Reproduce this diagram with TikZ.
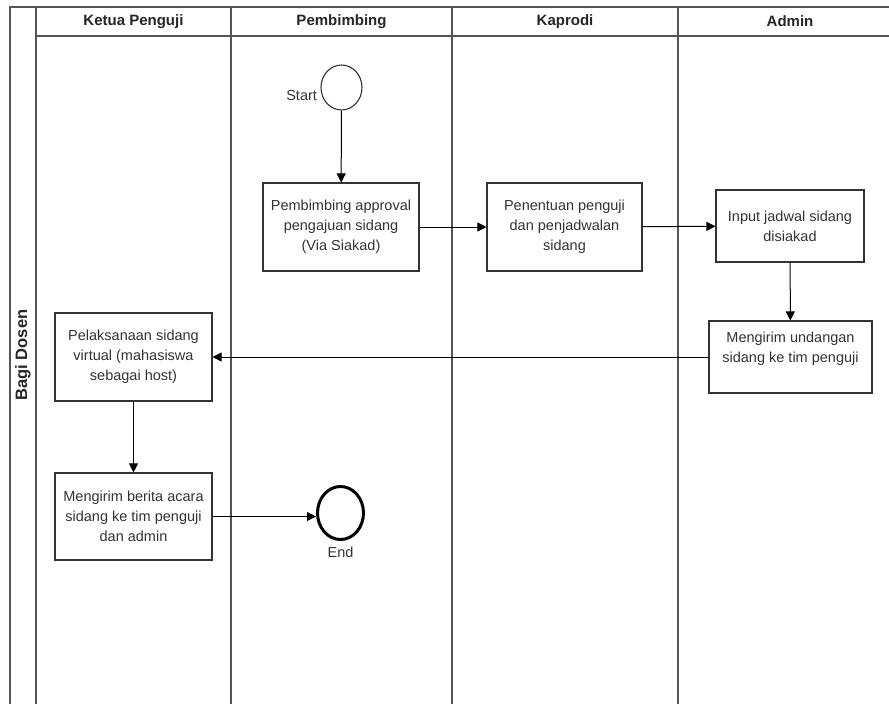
\documentclass[tikz,border=0pt]{standalone}
\usepackage{fontspec}
\setmainfont{Liberation Sans}
\usetikzlibrary{arrows.meta,shapes.geometric}

\definecolor{lanegray}{HTML}{555555}
\definecolor{inkgray}{HTML}{333333}

\tikzset{
  lane/.style={draw=lanegray,line width=1.5pt},
  task/.style={draw=inkgray,line width=1.1pt,fill=white,align=center,text=inkgray,
    font=\fontsize{14.5}{20}\selectfont,inner sep=0pt},
  lanehead/.style={font=\fontsize{15}{17}\selectfont\bfseries,text=black!85},
  flow/.style={draw=black,line width=1pt,-{Triangle[length=9pt,width=9pt]}},
  label/.style={font=\fontsize{14.5}{17}\selectfont,text=inkgray},
}

\begin{document}
\begin{tikzpicture}[x=1pt,y=-1pt]

    \useasboundingbox (0,0) rectangle (889,704);
    \clip (0,0) rectangle (889,704);
    \fill[white] (0,0) rectangle (889,704);

    %draw pool and lanes
    \draw[lane] (10,710) -- (10,7) -- (900,7);
    \draw[lane] (36,7) -- (36,710);
    \draw[lane] (36,36) -- (900,36);
    \draw[lane] (231,7) -- (231,710);
    \draw[lane] (452,7) -- (452,710);
    \draw[lane] (678,7) -- (678,710);

    %draw lane labels
    \node[lanehead] (hketua) at (133.5,21.5) {Ketua Penguji};
    \node[lanehead] (hpemb)  at (341.5,21.5) {Pembimbing};
    \node[lanehead] (hkap)   at (565,21.5)   {Kaprodi};
    \node[lanehead] (hadmin) at (790,21.5)   {Admin};
    \node[lanehead,font=\fontsize{16.5}{18}\selectfont\bfseries,rotate=90] (hpool) at (23,355) {Bagi Dosen};

    %draw start and end
    \node[ellipse,draw=inkgray,line width=1.1pt,minimum width=41pt,minimum height=45pt,inner sep=0pt] (start) at (341.5,87.5) {};
    \node[label,anchor=east] (startlbl) at ([yshift=-8pt]start.west) {Start};
    \node[ellipse,draw=black,line width=3pt,minimum width=46pt,minimum height=53pt,inner sep=0pt] (end) at (340.5,513) {};
    \node[label] (endlbl) at (340.5,552) {End};

    %draw tasks
    \node[task,minimum width=156pt,minimum height=88pt] (approval) at (341,227)
      {Pembimbing approval\\pengajuan sidang\\(Via Siakad)};
    \node[task,minimum width=155pt,minimum height=88pt] (penentuan) at (564.5,227)
      {Penentuan penguji\\dan penjadwalan\\sidang};
    \node[task,minimum width=148pt,minimum height=72pt] (input) at (790,226)
      {Input jadwal sidang\\disiakad};
    \node[task,minimum width=163pt,minimum height=72pt] (undangan) at (790.5,357)
      {Mengirim undangan\\sidang ke tim penguji\\[-6pt]\strut};
    \node[task,minimum width=157pt,minimum height=88pt] (pelaksanaan) at (133.5,357)
      {Pelaksanaan sidang\\virtual (mahasiswa\\sebagai host)};
    \node[task,minimum width=157pt,minimum height=87pt] (berita) at (133.5,516.5)
      {Mengirim berita acara\\sidang ke tim penguji\\dan admin};

    %draw flows
    \draw[flow] (start) -- (approval);
    \draw[flow] (approval) -- (penentuan);
    \draw[flow] (penentuan) -- (input);
    \draw[flow] (input) -- (undangan);
    \draw[flow] (undangan) -- (pelaksanaan);
    \draw[flow] (pelaksanaan) -- (berita);
    \draw[flow] (berita.east) -- (end.west |- berita.east);

\end{tikzpicture}
\end{document}
